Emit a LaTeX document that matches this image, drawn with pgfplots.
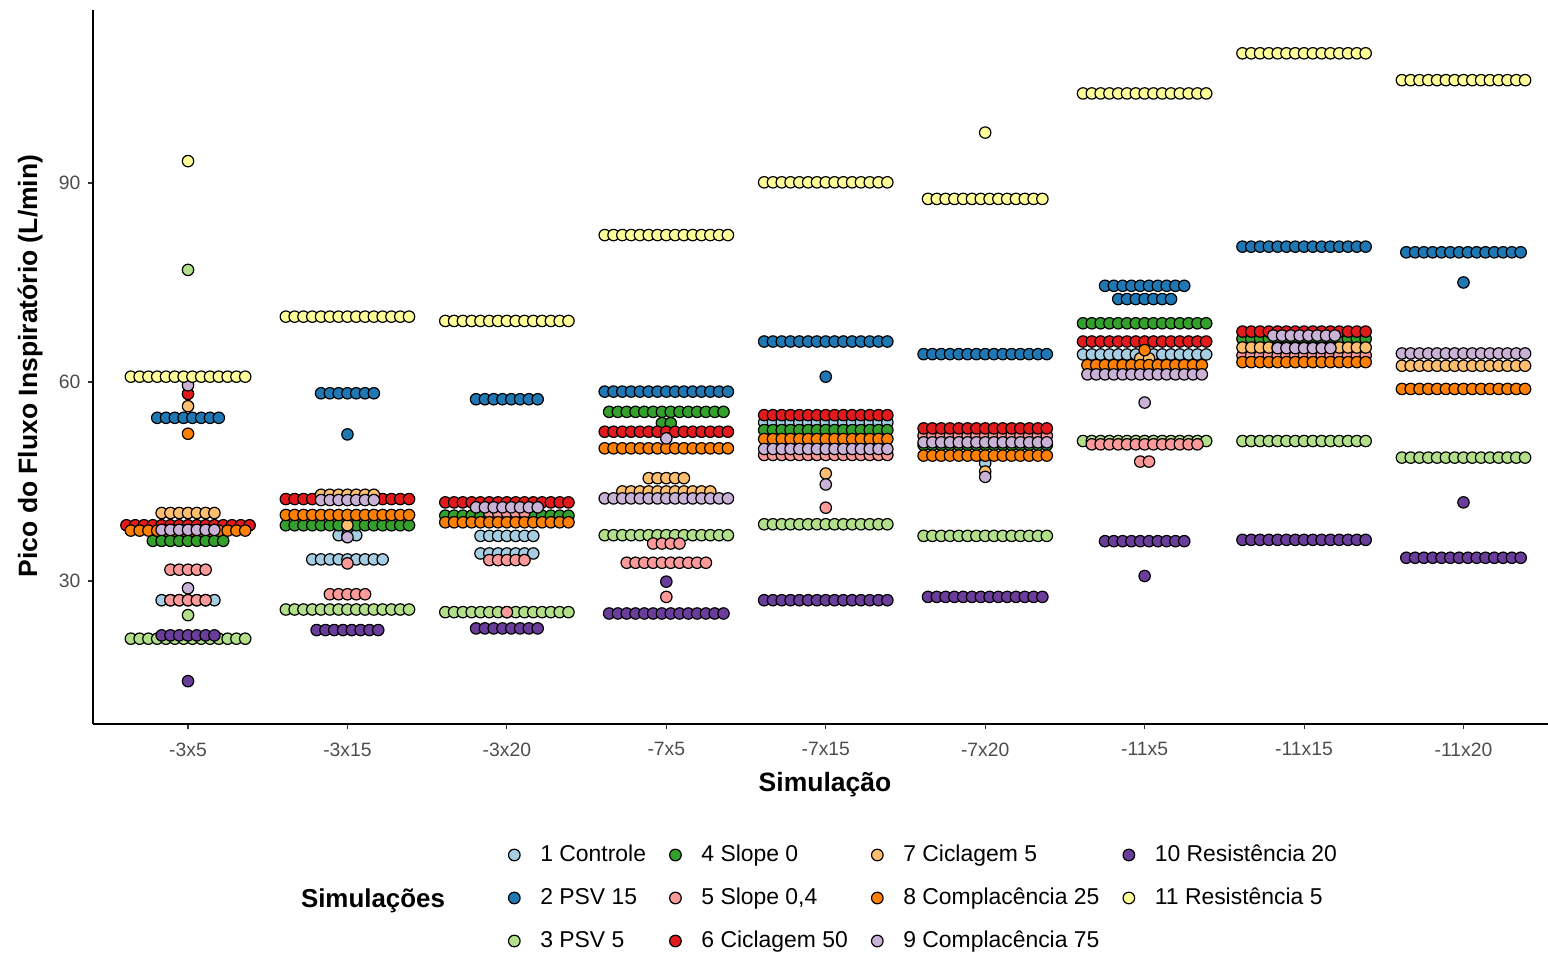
\documentclass[border=0pt]{standalone}
\usepackage{pgfplots}
\pgfplotsset{compat=1.18}
\usepackage{pgfplotstable}
\usepackage{fontspec}
\setmainfont{Liberation Sans}

\definecolor{cA}{HTML}{A6CEE3}
\definecolor{cB}{HTML}{1F78B4}
\definecolor{cC}{HTML}{B2DF8A}
\definecolor{cD}{HTML}{33A02C}
\definecolor{cE}{HTML}{FB9A99}
\definecolor{cF}{HTML}{E31A1C}
\definecolor{cG}{HTML}{FDBF6F}
\definecolor{cH}{HTML}{FF7F00}
\definecolor{cI}{HTML}{CAB2D6}
\definecolor{cJ}{HTML}{6A3D9A}
\definecolor{cK}{HTML}{FFFF99}
\definecolor{tickgray}{HTML}{4D4D4D}
\definecolor{tickdark}{HTML}{333333}

% a row of n dots centred on the data point (ggplot dotplot, stackdir=center)
\pgfdeclareplotmark{dotrow}{%
  \pgfmathtruncatemacro\dotnn{\dotn}%
  \pgfmathsetmacro\dotstart{-(\dotnn-1)*2.2}%
  \foreach \k in {1,...,\dotnn}{%
    \pgfpathcircle{\pgfpoint{\dotstart bp+(\k-1)*4.4bp}{0bp}}{2.85bp}%
    \pgfusepath{fill,stroke}%
  }%
}

% columns: x = category index, y = value, n = number of stacked dots
\pgfplotstableread{
x y n
0 27.1 7
1 36.9 3
1 33.25 9
2 36.8 7
2 34.15 7
4 53.9 15
5 47.75 1
6 64.15 15
}\tabA
\pgfplotstableread{
x y n
0 54.6 8
1 58.3 7
1 52.1 1
2 57.4 8
3 58.55 15
4 66.1 15
4 60.8 1
5 64.2 15
6 74.5 10
6 72.5 7
7 80.4 15
8 79.55 14
8 75.0 1
}\tabB
\pgfplotstableread{
x y n
0 76.9 1
0 24.85 1
0 21.3 14
1 25.7 15
2 25.3 15
3 36.9 15
4 38.55 15
5 36.8 15
6 51.1 15
7 51.1 15
8 48.6 15
}\tabC
\pgfplotstableread{
x y n
0 36.05 9
1 38.4 15
2 39.85 15
3 55.5 14
3 53.8 2
4 52.75 15
5 50.5 15
6 68.85 15
7 66.5 15
}\tabD
\pgfplotstableread{
x y n
0 31.7 5
0 27.1 5
1 32.65 1
1 28.0 5
2 40.3 5
2 33.15 5
2 25.3 1
3 35.65 4
3 32.75 10
3 27.6 1
4 49.0 15
4 41.05 1
5 51.9 15
6 50.6 13
6 48.0 2
7 64.0 15
}\tabE
\pgfplotstableread{
x y n
0 58.2 1
0 38.4 15
1 42.35 15
2 41.85 15
3 52.5 15
4 55.0 15
5 53.0 15
6 66.1 15
7 67.6 15
}\tabF
\pgfplotstableread{
x y n
0 56.35 1
0 40.25 7
1 43.0 7
1 38.4 1
3 45.5 5
3 43.5 11
4 46.2 1
5 46.5 1
6 63.55 2
7 65.2 15
8 62.45 15
}\tabG
\pgfplotstableread{
x y n
0 52.2 1
0 37.6 14
1 39.95 15
2 38.85 15
3 50.0 15
4 51.4 15
5 48.9 15
6 64.8 1
6 62.55 14
7 63.0 15
8 58.95 15
}\tabH
\pgfplotstableread{
x y n
0 59.5 1
0 37.7 7
0 28.9 1
1 42.2 7
1 36.6 1
2 41.1 8
3 51.5 1
3 42.45 15
4 49.9 15
4 44.55 1
5 50.9 15
5 45.7 1
6 61.15 14
6 56.9 1
7 67.0 8
7 65.1 7
8 64.3 15
}\tabI
\pgfplotstableread{
x y n
0 21.8 7
0 14.9 1
1 22.6 8
2 22.85 8
3 29.9 1
3 25.1 14
4 27.1 15
5 27.6 14
6 36.0 10
6 30.75 1
7 36.2 15
8 41.85 1
8 33.5 14
}\tabJ
\pgfplotstableread{
x y n
0 93.3 1
0 60.8 14
1 69.85 15
2 69.2 15
3 82.15 15
4 90.1 15
5 97.6 1
5 87.6 14
6 103.5 15
7 109.55 15
8 105.5 15
}\tabK

\pgfplotsset{
  dots/.style={scatter, only marks, mark=dotrow, forget plot,
    visualization depends on={\thisrow{n}\as\dotn},
    scatter/use mapped color={draw=black, fill=#1, line width=0.6bp}},
  leg/.style={only marks, mark=*, mark size=2.9bp,
    mark options={draw=black, fill=#1, line width=0.6bp}},
}

\begin{document}
\begin{tikzpicture}
\path[use as bounding box] (0,0) rectangle (774bp,478bp);
\begin{axis}[
  at={(46.5bp,116bp)}, anchor=south west,
  scale only axis, width=727.5bp, height=357bp,
  xmin=-0.596, xmax=8.53, ymin=8.44, ymax=116.08,
  axis x line*=bottom, axis y line*=left,
  axis line style={black, line width=0.55bp},
  xtick={0,1,2,3,4,5,6,7,8},
  xticklabels={-3x5,-3x15,-3x20,-7x5,-7x15,-7x20,-11x5,-11x15,-11x20},
  ytick={30,60,90},
  tick align=outside,
  major tick length=2.75bp,
  tick style={tickdark, line width=0.55bp},
  tick label style={font=\fontsize{9.7}{11}\selectfont, text=tickgray},
  xticklabel style={yshift=-3bp},
  /pgf/number format/assume math mode=true,
  clip=false,
  legend columns=4,
  legend cell align=left,
  legend image code/.code={%
    \path[draw=none, fill=none] (-3.2bp,-3.2bp) rectangle (3.2bp,3.2bp);
    \draw[#1] plot coordinates {(0bp,0bp)};},
  legend style={draw=none, fill=none, inner sep=0pt,
    at={(0.2849,-0.2437)}, anchor=west,
    font=\fontsize{11.5}{13}\selectfont, text=black,
    /tikz/every odd column/.append style={column sep=9.8bp},
    /tikz/every even column/.append style={column sep=11.5bp},
    row sep=10.5bp,
    nodes={inner xsep=0pt, inner ysep=0pt, text height=8.7bp, text depth=2.3bp}},
]
\addplot[dots=cA] table[x=x,y=y] {\tabA};
\addplot[dots=cB] table[x=x,y=y] {\tabB};
\addplot[dots=cC] table[x=x,y=y] {\tabC};
\addplot[dots=cD] table[x=x,y=y] {\tabD};
\addplot[dots=cE] table[x=x,y=y] {\tabE};
\addplot[dots=cF] table[x=x,y=y] {\tabF};
\addplot[dots=cG] table[x=x,y=y] {\tabG};
\addplot[dots=cH] table[x=x,y=y] {\tabH};
\addplot[dots=cI] table[x=x,y=y] {\tabI};
\addplot[dots=cJ] table[x=x,y=y] {\tabJ};
\addplot[dots=cK] table[x=x,y=y] {\tabK};

\addlegendimage{leg=cA}\addlegendentry{1 Controle}
\addlegendimage{leg=cD}\addlegendentry{4 Slope 0}
\addlegendimage{leg=cG}\addlegendentry{7 Ciclagem 5}
\addlegendimage{leg=cJ}\addlegendentry{10 Resistência 20}
\addlegendimage{leg=cB}\addlegendentry{2 PSV 15}
\addlegendimage{leg=cE}\addlegendentry{5 Slope 0,4}
\addlegendimage{leg=cH}\addlegendentry{8 Complacência 25}
\addlegendimage{leg=cK}\addlegendentry{11 Resistência 5}
\addlegendimage{leg=cC}\addlegendentry{3 PSV 5}
\addlegendimage{leg=cF}\addlegendentry{6 Ciclagem 50}
\addlegendimage{leg=cI}\addlegendentry{9 Complacência 75}
\end{axis}
\node[anchor=base, font=\bfseries\fontsize{13}{15}\selectfont] at (186.5bp,24.5bp) {Simulações};
\node[anchor=base, font=\bfseries\fontsize{13.3}{15}\selectfont] at (412.5bp,82bp) {Simulação};
\node[anchor=base, rotate=90, font=\bfseries\fontsize{13.3}{15}\selectfont] at (18.5bp,295bp) {Pico do Fluxo Inspiratório (L/min)};
\end{tikzpicture}
\end{document}
